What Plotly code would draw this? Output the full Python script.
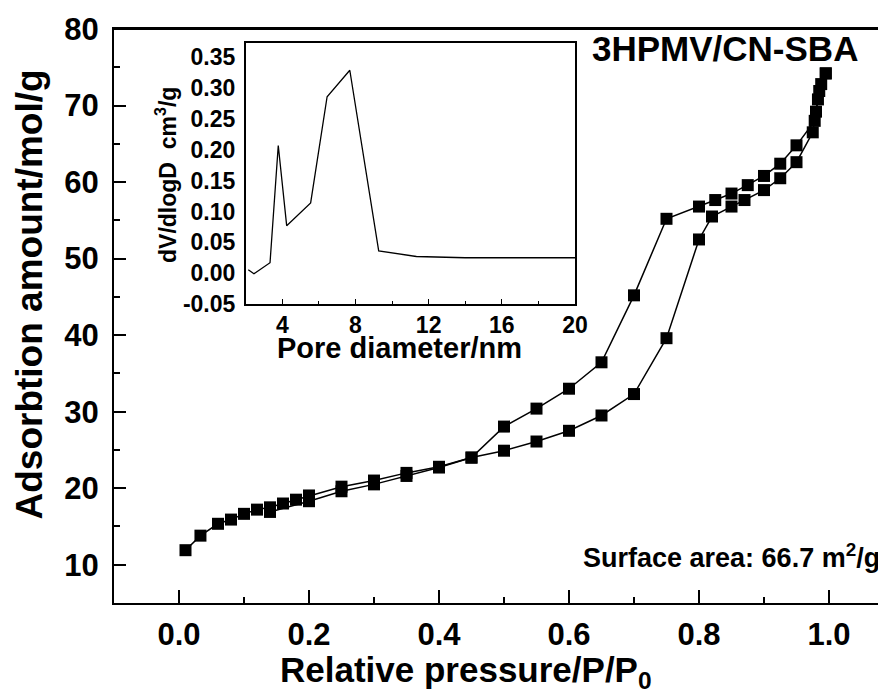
import plotly.graph_objects as go

# Main isotherm data
ads_x = [0.01, 0.033, 0.06, 0.08, 0.10, 0.12, 0.14, 0.16, 0.18, 0.20, 0.25, 0.30, 0.35, 0.40, 0.45,
         0.50, 0.55, 0.60, 0.65, 0.70, 0.75, 0.80, 0.82, 0.85, 0.87, 0.90, 0.925, 0.95, 0.975, 0.98, 0.985, 0.995]
ads_y = [11.9, 13.8, 15.35, 15.9, 16.65, 17.2, 17.5, 18.0, 18.5, 19.05, 20.2, 21.0, 22.0, 22.8, 24.0,
         24.9, 26.1, 27.5, 29.5, 32.3, 39.6, 52.5, 55.5, 56.8, 57.65, 58.95, 60.5, 62.6, 66.5, 69.2, 71.9, 74.2]

des_x = [0.995, 0.988, 0.983, 0.978, 0.95, 0.925, 0.90, 0.875, 0.85, 0.825, 0.80, 0.75, 0.70, 0.65,
         0.60, 0.55, 0.50, 0.45, 0.40, 0.35, 0.30, 0.25, 0.20, 0.14]
des_y = [74.2, 72.8, 70.8, 68.0, 64.8, 62.4, 60.8, 59.6, 58.5, 57.65, 56.8, 55.2, 45.2, 36.45,
         33.0, 30.4, 28.05, 24.0, 22.7, 21.6, 20.5, 19.6, 18.3, 16.9]

# Inset pore size distribution
pore_d = [2.14, 2.45, 3.33, 3.78, 4.24, 5.55, 6.45, 7.69, 9.27, 11.33, 14.0, 20.0]
dv_dlogd = [0.0055, -0.001, 0.017, 0.207, 0.077, 0.114, 0.286, 0.329, 0.036, 0.027, 0.025, 0.025]

main_yticks = [10, 20, 30, 40, 50, 60, 70, 80]
main_xticks = [0.0, 0.2, 0.4, 0.6, 0.8, 1.0]
inset_xticks = [4, 8, 12, 16, 20]
inset_yticks = [-0.05, 0.0, 0.05, 0.10, 0.15, 0.20, 0.25, 0.30, 0.35]

FONT = "Liberation Sans, Arial, sans-serif"
W, H = 886, 695
OFF = 8  # page body margin offset (browser default)
L, R, T, B = 106, 0, 21, 100

fig = go.Figure()

for xs, ys in [(ads_x, ads_y), (des_x, des_y)]:
    fig.add_trace(go.Scatter(
        x=xs, y=ys, mode="lines+markers",
        line=dict(color="black", width=1.5),
        marker=dict(symbol="square", size=12, color="black"),
        showlegend=False, xaxis="x", yaxis="y"))

fig.add_trace(go.Scatter(
    x=pore_d, y=dv_dlogd, mode="lines",
    line=dict(color="black", width=1.3),
    showlegend=False, xaxis="x2", yaxis="y2"))

pw = W - L - R
ph = H - T - B

def px2fx(px):
    # screen pixel x -> paper fraction
    return (px - OFF - L) / pw

def py2fy(py):
    # screen pixel y -> paper fraction
    return (H - B - (py - OFF)) / ph

fig.update_layout(
    width=W, height=H,
    margin=dict(l=L, r=R, t=T, b=B, autoexpand=False),
    paper_bgcolor="white", plot_bgcolor="white",
    font=dict(family=FONT, color="black", weight="bold"),
    xaxis=dict(
        domain=[0, 1], range=[-0.1, 1.1], automargin=False,
        tickvals=main_xticks, ticktext=[f"{v:.1f}" for v in main_xticks],
        ticks="inside", ticklen=13, tickwidth=2, tickcolor="black",
        minor=dict(ticks="inside", ticklen=6, tickwidth=2, tickcolor="black", dtick=0.1, tick0=0),
        showline=True, linecolor="black", linewidth=2, mirror=True,
        showgrid=False, zeroline=False,
        tickfont=dict(size=31, family=FONT, weight="bold"),
        ticklabelstandoff=3,
    ),
    yaxis=dict(
        domain=[0, 1], range=[5, 80], automargin=False,
        tickvals=main_yticks,
        ticks="inside", ticklen=12, tickwidth=2, tickcolor="black",
        minor=dict(ticks="inside", ticklen=6, tickwidth=2, tickcolor="black", dtick=5, tick0=0),
        showline=True, linecolor="black", linewidth=2, mirror=False,
        showgrid=False, zeroline=False,
        tickfont=dict(size=31, family=FONT, weight="bold"),
        ticklabelstandoff=7,
    ),
    xaxis2=dict(
        domain=[px2fx(245.7), px2fx(575)], anchor="y2", range=[2, 20], automargin=False,
        tickvals=inset_xticks,
        ticks="inside", ticklen=5, tickwidth=1, tickcolor="black",
        minor=dict(ticks="inside", ticklen=3, tickwidth=1, tickcolor="black", dtick=2, tick0=0),
        showline=True, linecolor="black", linewidth=1.5, mirror=True,
        showgrid=False, zeroline=False,
        tickfont=dict(size=23, family=FONT, weight="bold"),
        ticklabelstandoff=0,
    ),
    yaxis2=dict(
        domain=[py2fy(304), py2fy(43.3)], anchor="x2", range=[-0.05, 0.3727], automargin=False,
        tickvals=inset_yticks, ticktext=[f"{v:.2f}" for v in inset_yticks],
        ticks="",
        showline=True, linecolor="black", linewidth=1.5, mirror=True,
        showgrid=False, zeroline=False,
        tickfont=dict(size=23, family=FONT, weight="bold"),
        ticklabelstandoff=4,
    ),
)

# top border of the main frame
fig.add_shape(type="line", xref="paper", yref="paper", x0=0, x1=1, y0=1, y1=1,
              line=dict(color="black", width=2))

annots = [
    dict(text="3HPMV/CN-SBA", x=px2fx(725), y=py2fy(48.5), size=35),
    dict(text="Surface area: 66.7 m<sup>2</sup>/g", x=px2fx(731), y=py2fy(556), size=27),
    dict(text="Relative pressure/P/P<sub>0</sub>", x=px2fx(466), y=py2fy(672), size=35),
    dict(text="Adsorbtion amount/mol/g", x=px2fx(28.5), y=py2fy(295), size=37, angle=-90),
    dict(text="Pore diameter/nm", x=px2fx(399), y=py2fy(348), size=29),
    dict(text="dV/dlogD\u00a0\u00a0cm<sup>3</sup>/g", x=px2fx(166), y=py2fy(175), size=23, angle=-90),
]
for a in annots:
    fig.add_annotation(
        text=a["text"], x=a["x"], y=a["y"], xref="paper", yref="paper",
        xanchor="center", yanchor="middle", showarrow=False,
        textangle=a.get("angle", 0),
        font=dict(size=a["size"], family=FONT, color="black", weight="bold"))

fig.write_html("out.html")
